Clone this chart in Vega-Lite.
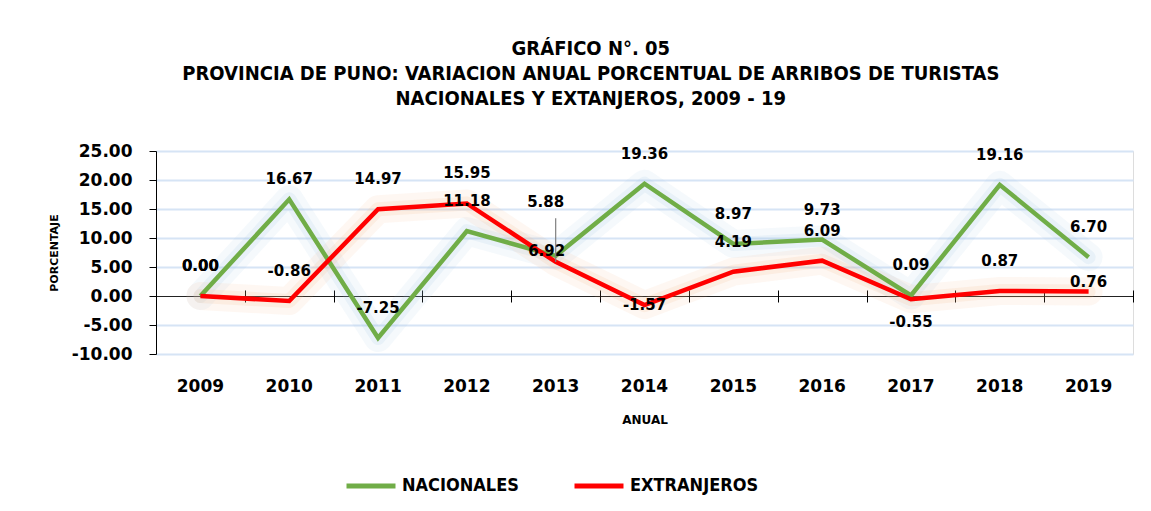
{
  "$schema": "https://vega.github.io/schema/vega-lite/v6.json",
  "width": 977,
  "height": 203,
  "autosize": {"type": "none"},
  "padding": {"left": 156, "top": 151, "right": 18, "bottom": 157},
  "background": "white",
  "config": {
    "locale": {"number": {"decimal": ".", "thousands": ",", "grouping": [3], "currency": ["$", ""], "minus": "-"}}
  },
  "title": {
    "text": ["GRÁFICO N°. 05", "PROVINCIA DE PUNO: VARIACION ANUAL PORCENTUAL DE ARRIBOS DE TURISTAS", "NACIONALES Y EXTANJEROS, 2009 - 19"],
    "font": "Liberation Sans Narrow, DejaVu Sans Condensed, sans-serif",
    "fontSize": 20,
    "fontWeight": "bold",
    "lineHeight": 25,
    "color": "black",
    "anchor": "middle",
    "frame": "bounds",
    "offset": 33
  },
  "data": {
    "values": [
      {"anio": "2009", "serie": "NACIONALES", "valor": 0.00},
      {"anio": "2010", "serie": "NACIONALES", "valor": 16.67},
      {"anio": "2011", "serie": "NACIONALES", "valor": -7.25},
      {"anio": "2012", "serie": "NACIONALES", "valor": 11.18},
      {"anio": "2013", "serie": "NACIONALES", "valor": 6.92},
      {"anio": "2014", "serie": "NACIONALES", "valor": 19.36},
      {"anio": "2015", "serie": "NACIONALES", "valor": 8.97},
      {"anio": "2016", "serie": "NACIONALES", "valor": 9.73},
      {"anio": "2017", "serie": "NACIONALES", "valor": 0.09},
      {"anio": "2018", "serie": "NACIONALES", "valor": 19.16},
      {"anio": "2019", "serie": "NACIONALES", "valor": 6.70},
      {"anio": "2009", "serie": "EXTRANJEROS", "valor": 0.00},
      {"anio": "2010", "serie": "EXTRANJEROS", "valor": -0.86},
      {"anio": "2011", "serie": "EXTRANJEROS", "valor": 14.97},
      {"anio": "2012", "serie": "EXTRANJEROS", "valor": 15.95},
      {"anio": "2013", "serie": "EXTRANJEROS", "valor": 5.88},
      {"anio": "2014", "serie": "EXTRANJEROS", "valor": -1.57},
      {"anio": "2015", "serie": "EXTRANJEROS", "valor": 4.19},
      {"anio": "2016", "serie": "EXTRANJEROS", "valor": 6.09},
      {"anio": "2017", "serie": "EXTRANJEROS", "valor": -0.55},
      {"anio": "2018", "serie": "EXTRANJEROS", "valor": 0.87},
      {"anio": "2019", "serie": "EXTRANJEROS", "valor": 0.76}
    ]
  },
  "encoding": {
    "y": {
      "field": "valor", "type": "quantitative",
      "scale": {"domain": [-10, 25], "nice": false, "zero": false},
      "axis": {
        "values": [-10, -5, 0, 5, 10, 15, 20, 25], "format": ".2f", "labelOverlap": false,
        "labelFont": "DejaVu Sans", "labelFontWeight": "bold", "labelFontSize": 17, "labelColor": "black",
        "labelPadding": 17, "tickSize": 7, "tickColor": "black", "domainColor": "black",
        "grid": true,
        "gridColor": {"condition": {"test": "datum.value === 0", "value": "#222222"}, "value": "#d6e4f5"},
        "gridWidth": {"condition": {"test": "datum.value === 0", "value": 1}, "value": 2},
        "title": "PORCENTAJE", "titleFont": "DejaVu Sans", "titleFontWeight": "bold", "titleFontSize": 11,
        "titleColor": "black", "titlePadding": 12
      }
    }
  },
  "resolve": {"scale": {"x": "shared"}, "axis": {"x": "independent"}},
  "layer": [
    {
      "transform": [{"filter": "datum.serie == 'NACIONALES'"}],
      "mark": {"type": "line", "strokeWidth": 28, "opacity": 0.1, "color": "#9dc3e6", "strokeJoin": "round", "strokeCap": "round"},
      "encoding": {"x": {"field": "anio", "type": "ordinal", "bandPosition": 0.5, "axis": null}}
    },
    {
      "transform": [{"filter": "datum.serie == 'NACIONALES'"}],
      "mark": {"type": "line", "strokeWidth": 14, "opacity": 0.14, "color": "#9dc3e6", "strokeJoin": "round", "strokeCap": "round"},
      "encoding": {"x": {"field": "anio", "type": "ordinal", "bandPosition": 0.5, "axis": null}}
    },
    {
      "transform": [{"filter": "datum.serie == 'EXTRANJEROS'"}],
      "mark": {"type": "line", "strokeWidth": 28, "opacity": 0.1, "color": "#f4b183", "strokeJoin": "round", "strokeCap": "round"},
      "encoding": {"x": {"field": "anio", "type": "ordinal", "bandPosition": 0.5, "axis": null}}
    },
    {
      "transform": [{"filter": "datum.serie == 'EXTRANJEROS'"}],
      "mark": {"type": "line", "strokeWidth": 14, "opacity": 0.14, "color": "#f4b183", "strokeJoin": "round", "strokeCap": "round"},
      "encoding": {"x": {"field": "anio", "type": "ordinal", "bandPosition": 0.5, "axis": null}}
    },
    {
      "mark": {"type": "line", "strokeWidth": 4.5, "strokeJoin": "miter"},
      "encoding": {
        "x": {
          "field": "anio", "type": "ordinal", "bandPosition": 0.5,
          "scale": {"type": "band", "paddingInner": 0, "paddingOuter": 0},
          "axis": {
            "orient": "bottom", "domain": false, "ticks": false, "grid": false,
            "labelAngle": 0, "labelPadding": 24,
            "labelFont": "DejaVu Sans", "labelFontWeight": "bold", "labelFontSize": 17, "labelColor": "black",
            "title": "ANUAL", "titleFont": "DejaVu Sans", "titleFontWeight": "bold", "titleFontSize": 12,
            "titleColor": "black", "titlePadding": 20
          }
        },
        "color": {
          "field": "serie", "type": "nominal",
          "scale": {"domain": ["NACIONALES", "EXTRANJEROS"], "range": ["#70ad47", "#ff0000"]},
          "sort": ["NACIONALES", "EXTRANJEROS"],
          "legend": {
            "orient": "none", "legendX": 188, "legendY": 308, "direction": "horizontal", "title": null,
            "symbolType": "stroke", "symbolSize": 2400, "symbolStrokeWidth": 5,
            "labelFont": "Liberation Sans Narrow, DejaVu Sans Condensed, sans-serif", "labelFontWeight": "bold",
            "labelFontSize": 18, "labelColor": "black", "labelOffset": 4, "columnPadding": 45
          }
        }
      }
    },
    {
      "transform": [{"filter": "indexof(['NACIONALES2010','NACIONALES2013','EXTRANJEROS2013','EXTRANJEROS2014','EXTRANJEROS2017','EXTRANJEROS2019'], datum.serie + datum.anio) < 0"}],
      "mark": {"type": "text", "dy": -30, "font": "DejaVu Sans", "fontWeight": "bold", "fontSize": 15, "color": "black", "baseline": "middle"},
      "encoding": {
        "x": {
          "field": "anio", "type": "ordinal", "bandPosition": 0.5,
          "axis": {
            "orient": "top", "offset": -151, "labels": false, "domain": false, "grid": false,
            "ticks": true, "tickBand": "extent", "tickSize": 12, "tickColor": "black", "title": null
          }
        },
        "text": {"field": "valor", "type": "quantitative", "format": ".2f"}
      }
    },
    {
      "transform": [{"filter": "datum.serie + datum.anio == 'NACIONALES2010'"}],
      "mark": {"type": "text", "dy": -20, "font": "DejaVu Sans", "fontWeight": "bold", "fontSize": 15, "color": "black", "baseline": "middle"},
      "encoding": {
        "x": {"field": "anio", "type": "ordinal", "bandPosition": 0.5, "axis": null},
        "text": {"field": "valor", "type": "quantitative", "format": ".2f"}
      }
    },
    {
      "transform": [{"filter": "datum.serie + datum.anio == 'NACIONALES2013'"}],
      "mark": {"type": "text", "dy": -5, "dx": -9, "font": "DejaVu Sans", "fontWeight": "bold", "fontSize": 15, "color": "black", "baseline": "middle"},
      "encoding": {
        "x": {"field": "anio", "type": "ordinal", "bandPosition": 0.5, "axis": null},
        "text": {"field": "valor", "type": "quantitative", "format": ".2f"}
      }
    },
    {
      "transform": [{"filter": "datum.serie + datum.anio == 'EXTRANJEROS2013'"}],
      "mark": {"type": "rule", "color": "#7f7f7f", "strokeWidth": 1.2},
      "encoding": {
        "x": {"field": "anio", "type": "ordinal", "bandPosition": 0.5, "axis": null},
        "y2": {"datum": 13.4}
      }
    },
    {
      "transform": [{"filter": "datum.serie + datum.anio == 'EXTRANJEROS2013'"}],
      "mark": {"type": "text", "dy": -60, "dx": -10, "font": "DejaVu Sans", "fontWeight": "bold", "fontSize": 15, "color": "black", "baseline": "middle"},
      "encoding": {
        "x": {"field": "anio", "type": "ordinal", "bandPosition": 0.5, "axis": null},
        "text": {"field": "valor", "type": "quantitative", "format": ".2f"}
      }
    },
    {
      "transform": [{"filter": "datum.serie + datum.anio == 'EXTRANJEROS2014'"}],
      "mark": {"type": "text", "dy": 0, "font": "DejaVu Sans", "fontWeight": "bold", "fontSize": 15, "color": "black", "baseline": "middle"},
      "encoding": {
        "x": {"field": "anio", "type": "ordinal", "bandPosition": 0.5, "axis": null},
        "text": {"field": "valor", "type": "quantitative", "format": ".2f"}
      }
    },
    {
      "transform": [{"filter": "datum.serie + datum.anio == 'EXTRANJEROS2017'"}],
      "mark": {"type": "text", "dy": 23, "font": "DejaVu Sans", "fontWeight": "bold", "fontSize": 15, "color": "black", "baseline": "middle"},
      "encoding": {
        "x": {"field": "anio", "type": "ordinal", "bandPosition": 0.5, "axis": null},
        "text": {"field": "valor", "type": "quantitative", "format": ".2f"}
      }
    },
    {
      "transform": [{"filter": "datum.serie + datum.anio == 'EXTRANJEROS2019'"}],
      "mark": {"type": "text", "dy": -10, "font": "DejaVu Sans", "fontWeight": "bold", "fontSize": 15, "color": "black", "baseline": "middle"},
      "encoding": {
        "x": {"field": "anio", "type": "ordinal", "bandPosition": 0.5, "axis": null},
        "text": {"field": "valor", "type": "quantitative", "format": ".2f"}
      }
    }
  ]
}
